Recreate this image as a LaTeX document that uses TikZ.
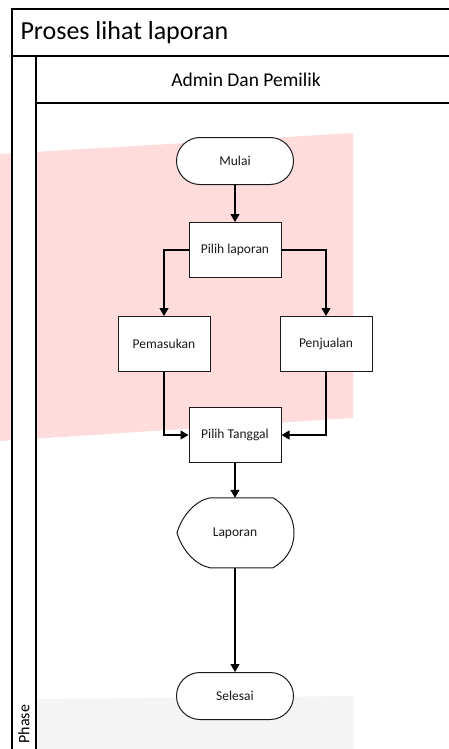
\documentclass[tikz,border=0pt]{standalone}
\usepackage{fontspec}
\setmainfont{Carlito}
\usetikzlibrary{arrows.meta}
\definecolor{lapInk}{HTML}{1A1A1A}
\definecolor{lapPink}{HTML}{FFDCDC}
\definecolor{lapMist}{HTML}{F4F4F4}
\tikzset{
  lap frame/.style={draw=black, line width=1.3pt},
  lap line/.style={draw=lapInk, fill=white, line width=1pt},
  lap box/.style={rectangle, lap line, minimum width=92pt, minimum height=55pt, inner sep=0pt, font=\fontsize{13.5}{16}\selectfont, text=lapInk},
  lap term/.style={lap box, rounded corners=23.5pt, minimum width=117pt, minimum height=47pt},
  lap disp/.style={rectangle, minimum width=117pt, minimum height=70pt, inner sep=0pt, font=\fontsize{13.5}{16}\selectfont, text=lapInk},
  lap flow/.style={draw=black, line width=1.1pt, -{Triangle[length=8pt,width=9pt]}},
}

\begin{document}
\begin{tikzpicture}[x=1pt,y=-1pt]
  \useasboundingbox (0,0) rectangle (449,749);
  % watermark behind the lane
  \fill[lapPink] (0,154) -- (353,133) -- (353,418) -- (0,441) -- cycle;
  \fill[lapMist] (36,699) -- (353,696) -- (353,749) -- (36,749) -- cycle;
  \fill[white] (12,56) rectangle (36,749);
  % pool and lane
  \draw[lap frame] (449,9) -- (12,9) -- (12,749);
  \draw[lap frame] (12,56) -- (449,56);
  \draw[lap frame] (36,56) -- (36,749);
  \draw[lap frame] (36,103) -- (449,103);
  \node[anchor=west, font=\fontsize{26}{30}\selectfont] (title) at (17,33) {Proses lihat laporan};
  \node[font=\fontsize{19.5}{23}\selectfont] (lane) at (246,80) {Admin Dan Pemilik};
  \node[rotate=90, anchor=west, font=\fontsize{16}{19}\selectfont] (phase) at (24,747) {Phase};
  % steps
  \node[lap term] (mulai) at (235,161) {Mulai};
  \node[lap box] (pilih) at (235,250) {Pilih laporan};
  \node[lap box] (masuk) at (164,344) {Pemasukan};
  \node[lap box] (jual) at (326,344) {Penjualan};
  \node[lap box] (tanggal) at (235,435) {Pilih Tanggal};
  \node[lap disp] (lap) at (235,533) {};
  \draw[lap line] (lap.north) ++(-25,0) -- ++(63,0)
    .. controls +(17,10) and +(0,-11) .. ++(21,35)
    .. controls +(0,11) and +(17,-10) .. ++(-21,35) -- ++(-63,0)
    .. controls +(-15,-3) and +(5,17) .. ++(-33,-35)
    .. controls +(5,-17) and +(-15,3) .. ++(33,-35) -- cycle;
  \node[lap disp] at (lap.center) {Laporan};
  \node[lap term] (selesai) at (235,696) {Selesai};
  % flow
  \draw[lap flow] (mulai) -- (pilih);
  \draw[lap flow] (pilih.west) -| (masuk.north);
  \draw[lap flow] (pilih.east) -| (jual.north);
  \draw[lap flow] (masuk.south) |- (tanggal.west);
  \draw[lap flow] (jual.south) |- (tanggal.east);
  \draw[lap flow] (tanggal) -- (lap.north);
  \draw[lap flow] (lap.south) -- (selesai.north);
\end{tikzpicture}
\end{document}
